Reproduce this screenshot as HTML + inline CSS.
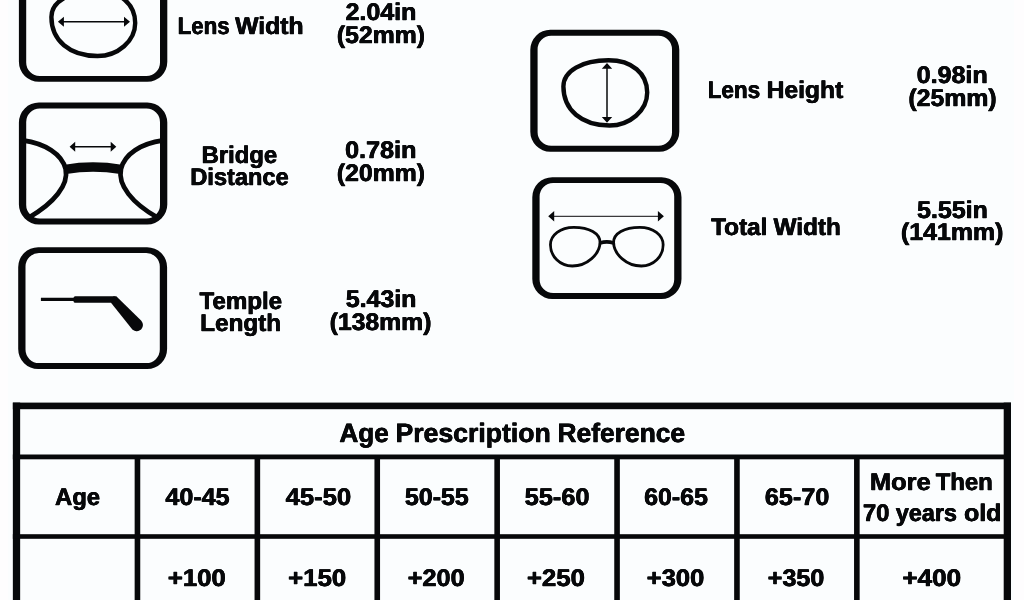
<!DOCTYPE html>
<html lang="en">
<head>
<meta charset="utf-8">
<title>Glasses Size Guide - Age Prescription Reference</title>
<style>
html,body{margin:0;padding:0;}
body{width:1024px;height:600px;overflow:hidden;background:#fbfdfe;position:relative;
 font-family:"Liberation Sans",sans-serif;color:#07080a;}
.page{position:absolute;left:0;top:0;width:1024px;height:600px;overflow:hidden;background:#fbfdfe;}
.art{position:absolute;left:0;top:0;}
.t{position:absolute;white-space:nowrap;line-height:1;font-weight:bold;font-size:24.0px;transform-origin:0 0;letter-spacing:0;-webkit-text-stroke:0.3px #07080a;text-rendering:geometricPrecision;text-shadow:0.35px 0 0 #07080a,-0.35px 0 0 #07080a;}
.lbl{position:static;}
.edge{position:absolute;top:0;height:600px;background:#fefdfe;}
</style>
</head>
<body>
<div class="page">
<div class="edge" style="left:0;width:8px"></div>
<div class="edge" style="left:1014px;width:10px"></div>
<svg class="art" width="1024" height="600" viewBox="0 0 1024 600" fill="#07080a">
<path fill-rule="evenodd" d="M38.9,-40.1 H147.3 A20.0,20.0 0 0 1 167.3,-20.1 V61.8 A20.0,20.0 0 0 1 147.3,81.8 H38.9 A20.0,20.0 0 0 1 18.9,61.8 V-20.1 A20.0,20.0 0 0 1 38.9,-40.1 Z M39.7,-34.2 H146.5 A13.5,13.5 0 0 1 160.0,-20.700000000000003 V62.39999999999999 A13.5,13.5 0 0 1 146.5,75.89999999999999 H39.7 A13.5,13.5 0 0 1 26.2,62.39999999999999 V-20.700000000000003 A13.5,13.5 0 0 1 39.7,-34.2 Z"/>
<path fill-rule="evenodd" d="M38.9,102.6 H147.3 A20.0,20.0 0 0 1 167.3,122.6 V204.4 A20.0,20.0 0 0 1 147.3,224.4 H38.9 A20.0,20.0 0 0 1 18.9,204.4 V122.6 A20.0,20.0 0 0 1 38.9,102.6 Z M39.7,108.5 H146.5 A13.5,13.5 0 0 1 160.0,122.0 V205.0 A13.5,13.5 0 0 1 146.5,218.5 H39.7 A13.5,13.5 0 0 1 26.2,205.0 V122.0 A13.5,13.5 0 0 1 39.7,108.5 Z"/>
<path fill-rule="evenodd" d="M38.2,247.2 H147.1 A20.0,20.0 0 0 1 167.1,267.2 V349.0 A20.0,20.0 0 0 1 147.1,369.0 H38.2 A20.0,20.0 0 0 1 18.2,349.0 V267.2 A20.0,20.0 0 0 1 38.2,247.2 Z M39.0,253.1 H146.29999999999998 A13.5,13.5 0 0 1 159.79999999999998,266.6 V349.6 A13.5,13.5 0 0 1 146.29999999999998,363.1 H39.0 A13.5,13.5 0 0 1 25.5,349.6 V266.6 A13.5,13.5 0 0 1 39.0,253.1 Z"/>
<path fill-rule="evenodd" d="M550.3,29.8 H659.3 A20.0,20.0 0 0 1 679.3,49.8 V131.7 A20.0,20.0 0 0 1 659.3,151.7 H550.3 A20.0,20.0 0 0 1 530.3,131.7 V49.8 A20.0,20.0 0 0 1 550.3,29.8 Z M551.0999999999999,35.7 H658.5 A13.5,13.5 0 0 1 672.0,49.2 V132.29999999999998 A13.5,13.5 0 0 1 658.5,145.79999999999998 H551.0999999999999 A13.5,13.5 0 0 1 537.5999999999999,132.29999999999998 V49.2 A13.5,13.5 0 0 1 551.0999999999999,35.7 Z"/>
<path fill-rule="evenodd" d="M552.3,177.2 H661.5 A20.0,20.0 0 0 1 681.5,197.2 V278.9 A20.0,20.0 0 0 1 661.5,298.9 H552.3 A20.0,20.0 0 0 1 532.3,278.9 V197.2 A20.0,20.0 0 0 1 552.3,177.2 Z M553.0999999999999,183.1 H660.7 A13.5,13.5 0 0 1 674.2,196.6 V279.5 A13.5,13.5 0 0 1 660.7,293.0 H553.0999999999999 A13.5,13.5 0 0 1 539.5999999999999,279.5 V196.6 A13.5,13.5 0 0 1 553.0999999999999,183.1 Z"/>
<path d="M51.40,17.00 C51.40,1.50 70.00,-9.20 96.50,-9.20 C120.00,-9.20 135.20,4.00 135.20,23.00 C135.20,41.00 118.00,56.00 97.50,56.00 C69.50,56.00 51.40,40.30 51.40,17.00 Z" fill="none" stroke="#07080a" stroke-width="4.4"/>
<path d="M62.9,21.8 H125.0" stroke="#07080a" stroke-width="1.6" fill="none"/><path d="M57.9,21.8 L63.9,16.8 V26.8 Z M130.0,21.8 L124.0,16.8 V26.8 Z"/>
<path d="M563.40,86.50 C563.40,71.00 582.00,60.30 608.50,60.30 C632.00,60.30 647.20,73.50 647.20,92.50 C647.20,110.50 630.00,125.50 609.50,125.50 C581.50,125.50 563.40,109.80 563.40,86.50 Z" fill="none" stroke="#07080a" stroke-width="4.4"/>
<path d="M607.0,67.8 V117.9" stroke="#07080a" stroke-width="1.5" fill="none"/><path d="M607.0,63.0 L601.8,68.8 H612.2 Z M607.0,122.7 L601.8,116.9 H612.2 Z"/>
<g fill="none" stroke="#07080a" stroke-linecap="butt"><path d="M23,140.4 C45,143.5 62,154 65.6,169 C69,185 54,203 29,217.5" stroke-width="4.7"/><path d="M163,140.4 C141,143.5 124.5,154 121,169 C117.5,185 132,203 157.5,217.5" stroke-width="4.7"/><path d="M65.5,169.3 C82,166.5 104,166.5 121,169.3" stroke-width="9.4"/></g>
<path d="M74.19999999999999,146.8 H111.7" stroke="#07080a" stroke-width="1.5" fill="none"/><path d="M69.6,146.8 L75.19999999999999,141.8 V151.8 Z M116.3,146.8 L110.7,141.8 V151.8 Z"/>
<g fill="none" stroke="#07080a"><path d="M40.9,299.4 H77" stroke-width="3.2"/><rect x="73.6" y="296.15" width="42" height="6.7" rx="1.6" fill="#07080a" stroke="none"/><path d="M111.00,302.85 L113.50,296.15 L116.30,296.15 L141.08,320.62 L141.45,321.01 L141.78,321.44 L142.07,321.90 L142.32,322.38 L142.53,322.88 L142.69,323.40 L142.81,323.92 L142.88,324.46 L142.90,325.00 L142.88,325.54 L142.81,326.08 L142.69,326.60 L142.53,327.12 L142.32,327.62 L142.07,328.10 L141.78,328.56 L141.45,328.99 L141.08,329.38 L140.69,329.75 L140.26,330.08 L139.80,330.37 L139.32,330.62 L138.82,330.83 L138.30,330.99 L137.78,331.11 L137.24,331.18 L136.70,331.20 L136.16,331.18 L135.62,331.11 L135.10,330.99 L134.58,330.83 L134.08,330.62 L133.60,330.37 L133.14,330.08 L132.71,329.75 L132.32,329.38 L131.95,328.99 Z" fill="#07080a" stroke="none"/></g>
<g fill="none" stroke="#07080a" stroke-width="2.8"><path d="M550.45,244.80 C550.45,235.00 560.50,227.30 573.80,227.30 C589.50,227.30 600.00,233.40 600.00,242.30 C600.00,254.20 587.00,266.00 572.30,266.00 C560.00,266.00 550.45,256.50 550.45,244.80 Z"/><path d="M663.15,244.80 C663.15,235.00 653.10,227.30 639.80,227.30 C624.10,227.30 613.60,233.40 613.60,242.30 C613.60,254.20 626.60,266.00 641.30,266.00 C653.60,266.00 663.15,256.50 663.15,244.80 Z"/><path d="M600,242.9 C604.5,241.6 609.1,241.6 613.6,242.9" stroke-width="3.6"/></g>
<path d="M553.2,216.3 H658.9" stroke="#3a3a3c" stroke-width="1.3" fill="none"/><path d="M548.2,216.3 L554.2,211.0 V221.60000000000002 Z M663.9,216.3 L657.9,211.0 V221.60000000000002 Z"/>
</svg>
<svg class="art" width="1024" height="600" viewBox="0 0 1024 600" fill="#07080a"><rect x="12.85" y="402.6" width="998.15" height="6.6"/><rect x="12.85" y="402.6" width="7.3" height="204"/><rect x="1003.7" y="402.6" width="7.3" height="204"/><rect x="12.85" y="454.5" width="998.15" height="4.8"/><rect x="12.85" y="534.2" width="998.15" height="4.6"/><rect x="134.65" y="457" width="5.6" height="150"/><rect x="254.55" y="457" width="5.6" height="150"/><rect x="374.45" y="457" width="5.6" height="150"/><rect x="494.35" y="457" width="5.6" height="150"/><rect x="614.25" y="457" width="5.6" height="150"/><rect x="734.15" y="457" width="5.6" height="150"/><rect x="854.05" y="457" width="5.6" height="150"/></svg>
<div class="lbl"><span class="t" id="lw0" style="left:177px;top:15px;transform:translateX(0.67px) scaleX(0.9274)">Lens</span> <span class="t" id="lw1" style="left:235px;top:15px;transform:translateX(0.15px) scaleX(1.0298)">Width</span></div>
<div class="lbl"><span class="t" id="br" style="left:201px;top:144px;transform:translateX(0.60px) scaleX(0.9940)">Bridge</span></div>
<div class="lbl"><span class="t" id="di" style="left:190px;top:166px;transform:translateX(0.29px) scaleX(0.9834)">Distance</span></div>
<div class="lbl"><span class="t" id="te" style="left:199px;top:290px;transform:translateX(0.48px) scaleX(1.0048)">Temple</span></div>
<div class="lbl"><span class="t" id="le" style="left:200px;top:312px;transform:translateX(0.22px) scaleX(1.0106)">Length</span></div>
<div class="lbl"><span class="t" id="v1a" style="left:345px;top:1px;transform:translateX(0.54px) scaleX(1.0413)">2.04in</span></div>
<div class="lbl"><span class="t" id="v1b" style="left:336px;top:24px;transform:translateX(0.83px) scaleX(1.0331)">(52mm)</span></div>
<div class="lbl"><span class="t" id="v2a" style="left:345px;top:139px;transform:translateX(0.06px) scaleX(1.0485)">0.78in</span></div>
<div class="lbl"><span class="t" id="v2b" style="left:336px;top:162px;transform:translateX(0.84px) scaleX(1.0329)">(20mm)</span></div>
<div class="lbl"><span class="t" id="v3a" style="left:345px;top:288px;transform:translateX(0.84px) scaleX(1.0376)">5.43in</span></div>
<div class="lbl"><span class="t" id="v3b" style="left:329px;top:311px;transform:translateX(0.72px) scaleX(1.0302)">(138mm)</span></div>
<div class="lbl"><span class="t" id="lh0" style="left:707px;top:79px;transform:translateX(0.73px) scaleX(0.9356)">Lens</span> <span class="t" id="lh1" style="left:766px;top:79px;transform:translateX(0.64px) scaleX(1.0263)">Height</span></div>
<div class="lbl"><span class="t" id="v4a" style="left:916px;top:64px;transform:translateX(0.70px) scaleX(1.0445)">0.98in</span></div>
<div class="lbl"><span class="t" id="v4b" style="left:908px;top:87px;transform:translateX(0.47px) scaleX(1.0320)">(25mm)</span></div>
<div class="lbl"><span class="t" id="tw0" style="left:711px;top:216px;transform:translateX(0.20px) scaleX(1.0109)">Total</span> <span class="t" id="tw1" style="left:773px;top:216px;transform:translateX(0.58px) scaleX(1.0128)">Width</span></div>
<div class="lbl"><span class="t" id="v5a" style="left:917px;top:199px;transform:translateX(0.11px) scaleX(1.0389)">5.55in</span></div>
<div class="lbl"><span class="t" id="v5b" style="left:900px;top:221px;transform:translateX(0.96px) scaleX(1.0379)">(141mm)</span></div>
<div class="lbl"><span class="t" id="hd0" style="left:339px;top:420px;font-size:26.6px;transform:translateX(0.38px) scaleX(0.9836)">Age</span> <span class="t" id="hd1" style="left:395px;top:420px;font-size:26.6px;transform:translateX(0.48px) scaleX(1.0008)">Prescription</span> <span class="t" id="hd2" style="left:557px;top:420px;font-size:26.6px;transform:translateX(0.52px) scaleX(0.9919)">Reference</span></div>
<div class="lbl"><span class="t" id="age" style="left:55px;top:486px;transform:translateX(0.12px) scaleX(0.9901)">Age</span></div>
<div class="lbl"><span class="t" id="a1" style="left:165px;top:486px;transform:translateX(0.46px) scaleX(1.0441)">40-45</span></div>
<div class="lbl"><span class="t" id="a2" style="left:285px;top:486px;transform:translateX(0.68px) scaleX(1.0658)">45-50</span></div>
<div class="lbl"><span class="t" id="a3" style="left:404px;top:486px;transform:translateX(0.92px) scaleX(1.0393)">50-55</span></div>
<div class="lbl"><span class="t" id="a4" style="left:524px;top:486px;transform:translateX(0.69px) scaleX(1.0552)">55-60</span></div>
<div class="lbl"><span class="t" id="a5" style="left:644px;top:486px;transform:translateX(0.13px) scaleX(1.0393)">60-65</span></div>
<div class="lbl"><span class="t" id="a6" style="left:764px;top:486px;transform:translateX(0.83px) scaleX(1.0509)">65-70</span></div>
<div class="lbl"><span class="t" id="m10" style="left:869px;top:471px;transform:translateX(0.92px) scaleX(1.0592)">More</span> <span class="t" id="m11" style="left:935px;top:471px;transform:translateX(0.75px) scaleX(0.9943)">Then</span></div>
<div class="lbl"><span class="t" id="m20" style="left:862px;top:502px;transform:translateX(0.96px) scaleX(0.9918)">70</span> <span class="t" id="m21" style="left:895px;top:502px;transform:translateX(0.84px) scaleX(0.9743)">years</span> <span class="t" id="m22" style="left:964px;top:502px;transform:translateX(0.09px) scaleX(1.0364)">old</span></div>
<div class="lbl"><span class="t" id="p1" style="left:167px;top:567px;transform:translateX(0.76px) scaleX(1.0742)">+100</span></div>
<div class="lbl"><span class="t" id="p2" style="left:288px;top:567px;transform:translateX(0.12px) scaleX(1.0738)">+150</span></div>
<div class="lbl"><span class="t" id="p3" style="left:407px;top:567px;transform:translateX(0.65px) scaleX(1.0544)">+200</span></div>
<div class="lbl"><span class="t" id="p4" style="left:526px;top:567px;transform:translateX(0.99px) scaleX(1.0707)">+250</span></div>
<div class="lbl"><span class="t" id="p5" style="left:646px;top:567px;transform:translateX(0.71px) scaleX(1.0658)">+300</span></div>
<div class="lbl"><span class="t" id="p6" style="left:767px;top:567px;transform:translateX(0.69px) scaleX(1.0479)">+350</span></div>
<div class="lbl"><span class="t" id="p7" style="left:902px;top:567px;transform:translateX(0.28px) scaleX(1.0884)">+400</span></div>
</div>
</body>
</html>
